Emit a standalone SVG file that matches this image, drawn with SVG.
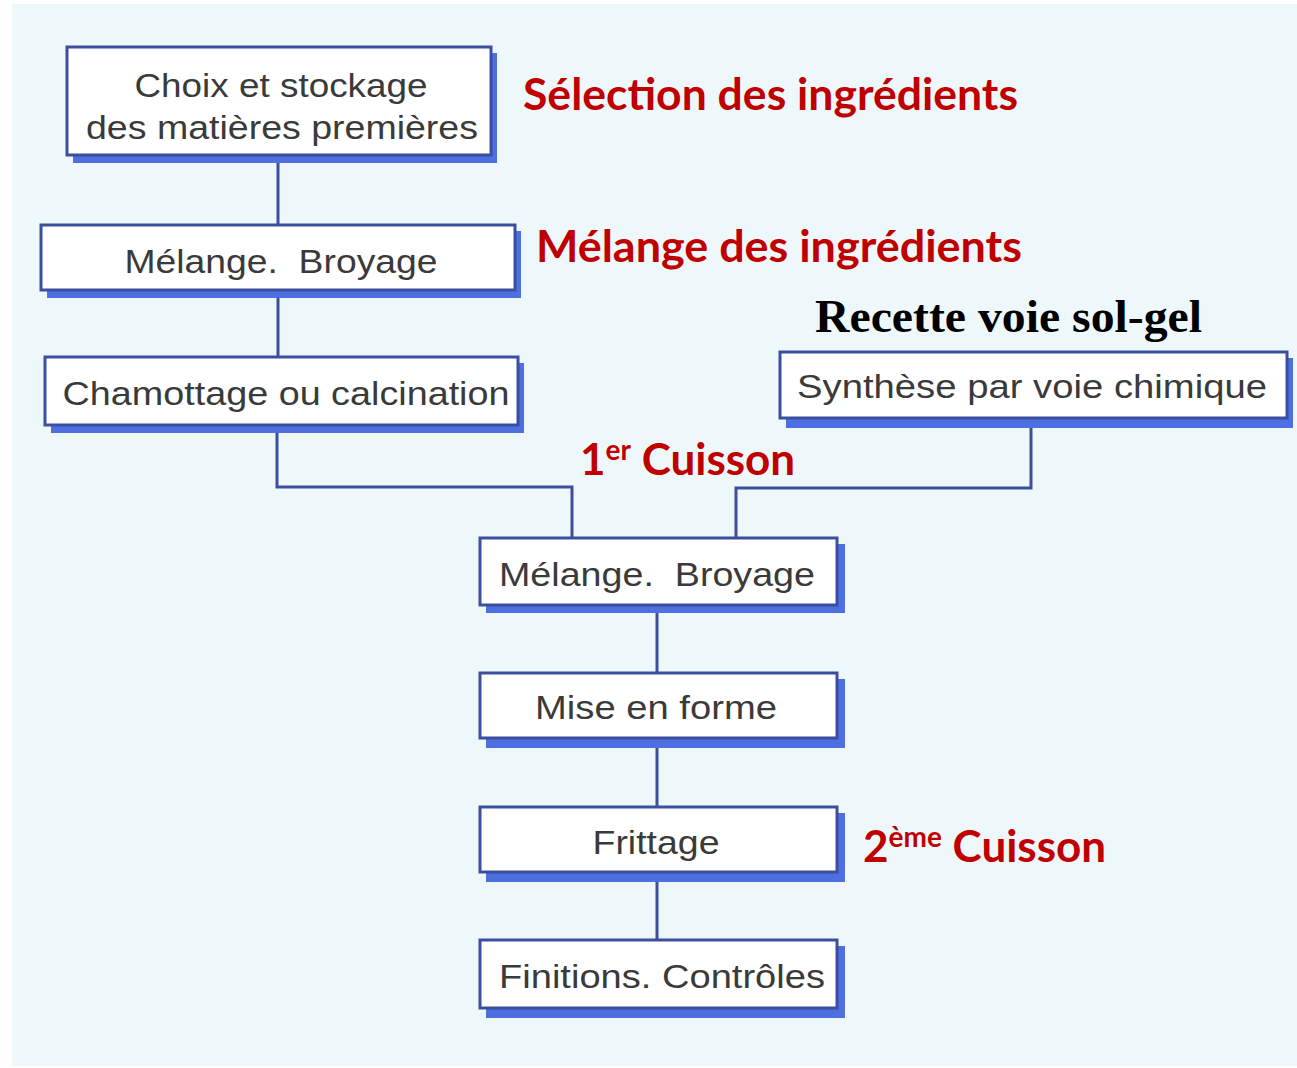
<svg xmlns="http://www.w3.org/2000/svg" width="1297" height="1068" viewBox="0 0 1297 1068">
<style>
.shadow{fill:#4d6fe0}
.box{fill:#ffffff;stroke:#3c4f9e;stroke-width:3}
.t{font-family:"Liberation Sans",Arial,sans-serif;font-size:34px;fill:#3a3a3a;text-anchor:middle;white-space:pre}
.red{font-family:Lato,"Open Sans",sans-serif;font-weight:bold;font-size:44px;fill:#c00000}
.blk{font-family:"Liberation Serif","Times New Roman",serif;font-weight:bold;font-size:47px;fill:#000}
.c{fill:none;stroke:#3c4f9e;stroke-width:3}
</style>
<rect x="0" y="0" width="1297" height="1068" fill="#ffffff"/>
<rect x="12" y="4" width="1285" height="1062" fill="#eef8fb"/>
<g id="connectors">
<path class="c" d="M278 155V225M278 290V357"/>
<path class="c" d="M277 425V487H572V538"/>
<path class="c" d="M1031 418V488H736V538"/>
<path class="c" d="M657 605V673M657 738V807M657 872V940"/>
</g>
<g id="n1"><rect class="shadow" x="73" y="53" width="424" height="110"/><rect class="box" x="67" y="47" width="424" height="108"/>
<text class="t" x="281" y="97" textLength="293" lengthAdjust="spacingAndGlyphs">Choix et stockage</text><text class="t" x="282" y="139" textLength="392" lengthAdjust="spacingAndGlyphs">des matières premières</text></g>
<g id="n2"><rect class="shadow" x="47" y="231" width="474" height="67"/><rect class="box" x="41" y="225" width="474" height="65"/>
<text class="t" x="281" y="273" textLength="313" lengthAdjust="spacingAndGlyphs" xml:space="preserve">Mélange.  Broyage</text></g>
<g id="n3"><rect class="shadow" x="51" y="363" width="473" height="70"/><rect class="box" x="45" y="357" width="473" height="68"/>
<text class="t" x="286" y="405" textLength="447" lengthAdjust="spacingAndGlyphs">Chamottage ou calcination</text></g>
<g id="n4"><rect class="shadow" x="786" y="358" width="507" height="70"/><rect class="box" x="780" y="352" width="507" height="66"/>
<text class="t" x="1032" y="398" textLength="470" lengthAdjust="spacingAndGlyphs">Synthèse par voie chimique</text></g>
<g id="n5"><rect class="shadow" x="486" y="544" width="359" height="69"/><rect class="box" x="480" y="538" width="357" height="67"/>
<text class="t" x="657" y="586" textLength="316" lengthAdjust="spacingAndGlyphs" xml:space="preserve">Mélange.  Broyage</text></g>
<g id="n6"><rect class="shadow" x="486" y="679" width="359" height="69"/><rect class="box" x="480" y="673" width="357" height="65"/>
<text class="t" x="656" y="719" textLength="242" lengthAdjust="spacingAndGlyphs">Mise en forme</text></g>
<g id="n7"><rect class="shadow" x="486" y="813" width="359" height="69"/><rect class="box" x="480" y="807" width="357" height="65"/>
<text class="t" x="656" y="854" textLength="127" lengthAdjust="spacingAndGlyphs">Frittage</text></g>
<g id="n8"><rect class="shadow" x="486" y="946" width="359" height="72"/><rect class="box" x="480" y="940" width="357" height="68"/>
<text class="t" x="662" y="988" textLength="326" lengthAdjust="spacingAndGlyphs">Finitions. Contrôles</text></g>
<g id="labels">
<text class="red" x="523" y="110" textLength="495" lengthAdjust="spacingAndGlyphs">Sélection des ingrédients</text>
<text class="red" x="536" y="262" textLength="486" lengthAdjust="spacingAndGlyphs">Mélange des ingrédients</text>
<text class="blk" x="815" y="332" textLength="387" lengthAdjust="spacingAndGlyphs">Recette voie sol-gel</text>
<text class="red" x="580" y="475">1<tspan font-size="28" dy="-15">er</tspan><tspan dy="15"> Cuisson</tspan></text>
<text class="red" x="863" y="862">2<tspan font-size="28" dy="-15">ème</tspan><tspan dy="15"> Cuisson</tspan></text>
</g>
</svg>
